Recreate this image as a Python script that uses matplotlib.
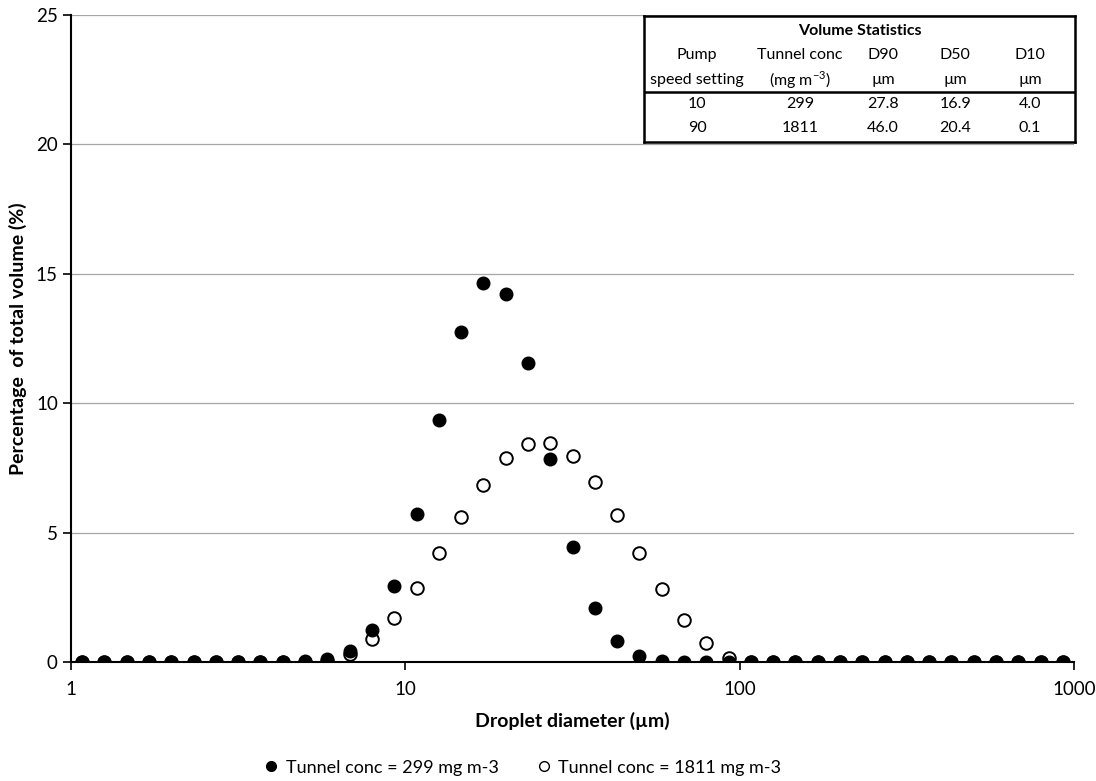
import matplotlib.pyplot as plt
from matplotlib.lines import Line2D

plt.rcParams['font.family'] = ['Lato', 'DejaVu Sans']

# Droplet size bins (um) - 15 bins per decade, bin midpoints
diameter = [1.080, 1.259, 1.468, 1.711, 1.995, 2.326, 2.712, 3.162, 3.687, 4.299,
            5.012, 5.843, 6.813, 7.943, 9.261, 10.80, 12.59, 14.68, 17.11, 19.95,
            23.26, 27.12, 31.62, 36.87, 42.99, 50.12, 58.43, 68.13, 79.43, 92.61,
            108.0, 125.9, 146.8, 171.1, 199.5, 232.6, 271.2, 316.2, 368.7, 429.9,
            501.2, 584.3, 681.3, 794.3, 926.1]

# Percentage of total volume, tunnel conc = 299 mg m-3
vol_299 = [0, 0, 0, 0, 0, 0, 0, 0, 0, 0,
           0.02, 0.1, 0.42, 1.24, 2.94, 5.73, 9.34, 12.75, 14.66, 14.21,
           11.55, 7.83, 4.43, 2.07, 0.81, 0.24, 0.05, 0, 0, 0,
           0, 0, 0, 0, 0, 0, 0, 0, 0, 0,
           0, 0, 0, 0, 0]

# Percentage of total volume, tunnel conc = 1811 mg m-3
vol_1811 = [0, 0, 0, 0, 0, 0, 0, 0, 0, 0,
            0.0, 0.05, 0.31, 0.88, 1.70, 2.87, 4.20, 5.60, 6.84, 7.87,
            8.42, 8.45, 7.96, 6.97, 5.68, 4.22, 2.82, 1.62, 0.73, 0.17,
            0, 0, 0, 0, 0, 0, 0, 0, 0, 0,
            0, 0, 0, 0, 0]

# Volume statistics table
col_head1 = ['Pump', 'Tunnel conc', 'D90', 'D50', 'D10']
col_head2 = ['speed setting', r'(mg m$^{\mathregular{-3}}$)', 'µm', 'µm', 'µm']
table_rows = [['10', '299', '27.8', '16.9', '4.0'],
              ['90', '1811', '46.0', '20.4', '0.1']]

fig = plt.figure(figsize=(10.96, 7.81), dpi=100)
ax = fig.add_axes([0.0648, 0.1524, 0.9152, 0.8284])

ax.scatter(diameter, vol_1811, s=82, facecolor='white', edgecolor='black',
           linewidth=1.4, zorder=3)
ax.scatter(diameter, vol_299, s=82, facecolor='black', edgecolor='black',
           linewidth=1.0, zorder=4)

ax.set_xscale('log')
ax.set_xlim(1, 1000)
ax.set_ylim(0, 25)
ax.set_xticks([1, 10, 100, 1000])
ax.set_xticklabels(['1', '10', '100', '1000'])
ax.minorticks_off()
ax.set_yticks([0, 5, 10, 15, 20, 25])
ax.yaxis.grid(True, color='#a6a6a6', linewidth=0.9)
ax.set_axisbelow(True)
for side in ['top', 'right']:
    ax.spines[side].set_visible(False)
ax.spines['left'].set_linewidth(1.5)
ax.spines['bottom'].set_linewidth(1.5)
ax.tick_params(axis='both', labelsize=13.5, width=1.2, length=6, colors='black')
ax.tick_params(axis='x', pad=8)
ax.set_xlabel('Droplet diameter (µm)', fontsize=14, fontweight='bold', labelpad=10)
ax.set_ylabel('Percentage  of total volume (%)', fontsize=14, fontweight='bold', labelpad=6)

# legend at the bottom
handles = [Line2D([], [], marker='o', linestyle='none', markersize=7,
                  markerfacecolor='black', markeredgecolor='black'),
           Line2D([], [], marker='o', linestyle='none', markersize=7,
                  markerfacecolor='white', markeredgecolor='black')]
fig.legend(handles, ['Tunnel conc = 299 mg m-3', 'Tunnel conc = 1811 mg m-3'],
           loc='center', bbox_to_anchor=(0.476, 0.017), ncol=2, frameon=False,
           fontsize=13, handletextpad=0.3, columnspacing=2.0, handlelength=1.0)

# table box
tab = fig.add_axes([644 / 1096, 1 - 142 / 781, 431 / 1096, 126 / 781])
tab.set_xticks([])
tab.set_yticks([])
tab.set_xlim(0, 1)
tab.set_ylim(0, 1)
for s in tab.spines.values():
    s.set_linewidth(1.8)
tab.text(0.5, 0.881, 'Volume Statistics', ha='center', va='center',
         fontsize=11.5, fontweight='bold')
col_x = [0.123, 0.362, 0.555, 0.722, 0.896]
for x, h1, h2 in zip(col_x, col_head1, col_head2):
    tab.text(x, 0.69, h1, ha='center', va='center', fontsize=11.5)
    tab.text(x, 0.492, h2, ha='center', va='center', fontsize=11.5)
tab.axhline(0.397, color='black', linewidth=1.8)
for y, row in zip([0.302, 0.111], table_rows):
    for x, val in zip(col_x, row):
        tab.text(x, y, val, ha='center', va='center', fontsize=11.5)

fig.savefig('out.png', dpi=100)
